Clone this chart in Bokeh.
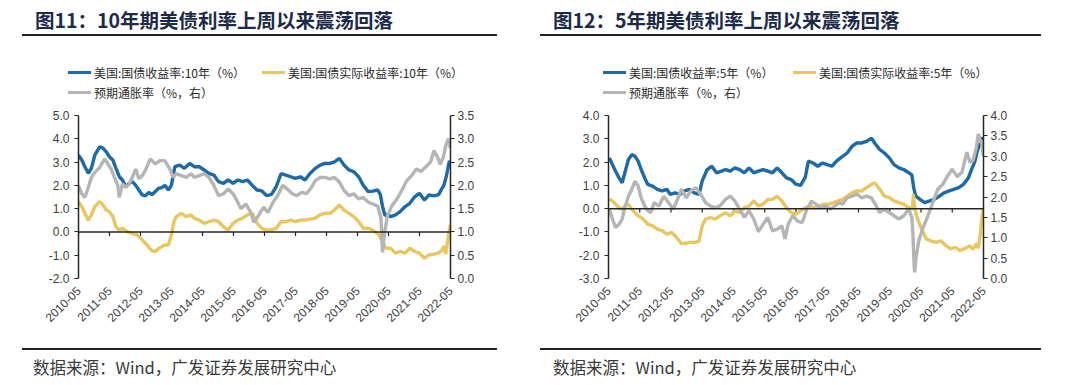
import math
from bokeh.plotting import figure
from bokeh.models import (Range1d, LinearAxis, FixedTicker, Span, Div, PrintfTickFormatter)
from bokeh.layouts import row, column
from bokeh.embed import file_html
from bokeh.resources import INLINE

# ---------------- data (fractional year, value) ----------------
tick_labels = ["2010-05", "2011-05", "2012-05", "2013-05", "2014-05", "2015-05", "2016-05",
               "2017-05", "2018-05", "2019-05", "2020-05", "2021-05", "2022-05"]

# 10Y panel
us10_nominal = [(2010.33,3.30),(2010.44,3.09),(2010.54,2.80),(2010.65,2.52),(2010.75,2.74),(2010.86,3.30),
    (2011.02,3.66),(2011.12,3.60),(2011.23,3.44),(2011.33,3.23),(2011.44,3.09),(2011.54,2.74),(2011.65,2.37),
    (2011.75,2.23),(2011.86,1.94),(2011.97,2.09),(2012.07,2.16),(2012.18,2.00),(2012.28,1.80),(2012.39,1.59),
    (2012.49,1.55),(2012.60,1.70),(2012.70,1.60),(2012.81,1.73),(2012.91,1.87),(2013.02,1.90),(2013.12,2.00),
    (2013.23,1.80),(2013.33,2.00),(2013.44,2.80),(2013.60,2.87),(2013.75,2.73),(2013.92,2.94),(2014.07,2.80),
    (2014.23,2.80),(2014.39,2.66),(2014.54,2.51),(2014.70,2.44),(2014.85,2.16),(2015.01,2.09),(2015.16,2.23),
    (2015.32,2.09),(2015.47,2.23),(2015.63,2.16),(2015.78,2.23),(2015.94,2.00),(2016.09,1.80),(2016.25,1.76),
    (2016.40,1.56),(2016.56,1.61),(2016.71,1.94),(2016.87,2.51),(2017.02,2.44),(2017.18,2.37),(2017.33,2.30),
    (2017.49,2.37),(2017.64,2.23),(2017.80,2.51),(2017.97,2.73),(2018.13,2.87),(2018.28,2.94),(2018.44,2.94),
    (2018.59,3.01),(2018.75,3.16),(2018.90,2.87),(2019.06,2.66),(2019.21,2.59),(2019.37,2.37),(2019.52,2.00),
    (2019.68,1.73),(2019.83,1.75),(2019.99,1.80),(2020.07,1.60),(2020.14,1.10),(2020.22,0.70),(2020.30,0.75),
    (2020.40,0.66),(2020.56,0.73),(2020.71,0.87),(2020.87,1.09),(2021.02,1.23),(2021.18,1.51),(2021.33,1.66),
    (2021.49,1.37),(2021.64,1.59),(2021.80,1.55),(2021.95,1.60),(2022.05,1.85),(2022.12,2.00),(2022.20,2.40),
    (2022.26,2.80),(2022.30,3.05),(2022.33,2.95)]

us10_real = [(2010.33,1.30),(2010.44,1.09),(2010.54,0.80),(2010.65,0.50),(2010.75,0.73),(2010.86,1.09),
    (2011.02,1.30),(2011.12,1.16),(2011.23,0.94),(2011.33,0.87),(2011.44,0.66),(2011.54,0.23),(2011.65,0.07),
    (2011.75,0.16),(2011.91,0.00),(2012.07,-0.06),(2012.23,-0.13),(2012.39,-0.34),(2012.54,-0.56),(2012.70,-0.80),
    (2012.81,-0.85),(2012.91,-0.72),(2013.02,-0.63),(2013.12,-0.56),(2013.23,-0.56),(2013.33,-0.13),(2013.41,0.44),
    (2013.49,0.66),(2013.65,0.80),(2013.81,0.66),(2013.96,0.73),(2014.07,0.59),(2014.23,0.51),(2014.39,0.37),
    (2014.54,0.44),(2014.70,0.51),(2014.85,0.44),(2015.01,0.23),(2015.16,0.07),(2015.32,0.37),(2015.47,0.51),
    (2015.63,0.59),(2015.78,0.73),(2015.94,0.80),(2016.09,0.37),(2016.25,0.16),(2016.40,0.07),(2016.56,0.10),
    (2016.71,0.15),(2016.87,0.45),(2017.02,0.44),(2017.18,0.51),(2017.33,0.44),(2017.49,0.51),(2017.64,0.51),
    (2017.80,0.55),(2017.97,0.59),(2018.13,0.73),(2018.28,0.80),(2018.44,0.80),(2018.59,0.94),(2018.75,1.16),
    (2018.90,0.94),(2019.06,0.80),(2019.21,0.66),(2019.37,0.44),(2019.52,0.16),(2019.68,0.16),(2019.83,0.07),
    (2019.99,-0.07),(2020.09,-0.29),(2020.25,-0.70),(2020.40,-0.70),(2020.56,-0.91),(2020.71,-0.84),(2020.87,-0.91),
    (2021.02,-0.70),(2021.18,-0.84),(2021.33,-0.91),(2021.49,-1.13),(2021.64,-0.99),(2021.80,-0.95),(2021.95,-0.90),
    (2022.05,-0.80),(2022.12,-0.60),(2022.18,-0.95),(2022.24,-0.40),(2022.29,0.05),(2022.33,0.30)]

us10_breakeven = [(2010.33,2.00),(2010.44,1.82),(2010.54,1.74),(2010.65,1.96),(2010.75,2.17),(2010.86,2.28),
    (2011.02,2.39),(2011.18,2.57),(2011.28,2.46),(2011.39,2.35),(2011.49,2.17),(2011.60,2.00),(2011.65,1.74),
    (2011.75,2.03),(2011.86,1.96),(2011.97,2.03),(2012.07,2.17),(2012.18,2.35),(2012.28,2.14),(2012.39,2.21),
    (2012.49,2.32),(2012.65,2.57),(2012.81,2.46),(2012.96,2.53),(2013.12,2.53),(2013.28,2.35),(2013.39,2.17),
    (2013.49,2.25),(2013.65,2.21),(2013.81,2.17),(2013.96,2.25),(2014.07,2.17),(2014.23,2.21),(2014.39,2.25),
    (2014.54,2.17),(2014.70,2.00),(2014.85,1.78),(2015.01,1.82),(2015.16,1.92),(2015.32,1.82),(2015.47,1.64),
    (2015.57,1.50),(2015.73,1.60),(2015.89,1.42),(2015.99,1.21),(2016.14,1.35),(2016.30,1.53),(2016.45,1.42),
    (2016.61,1.64),(2016.76,1.78),(2016.92,2.00),(2017.07,1.92),(2017.23,1.82),(2017.38,1.78),(2017.54,1.85),
    (2017.69,1.82),(2017.85,1.96),(2017.97,2.10),(2018.13,2.17),(2018.28,2.17),(2018.44,2.14),(2018.59,2.17),
    (2018.75,2.07),(2018.90,1.89),(2019.06,1.78),(2019.21,1.82),(2019.37,1.71),(2019.52,1.74),(2019.68,1.64),
    (2019.83,1.60),(2019.99,1.55),(2020.09,1.30),(2020.14,0.56),(2020.21,0.99),(2020.30,1.35),(2020.45,1.57),
    (2020.61,1.71),(2020.76,1.89),(2020.92,2.10),(2021.07,2.20),(2021.23,2.35),(2021.38,2.30),(2021.54,2.40),
    (2021.69,2.50),(2021.80,2.75),(2021.92,2.60),(2022.00,2.45),(2022.10,2.60),(2022.18,2.85),(2022.26,3.00),
    (2022.30,2.90),(2022.33,2.80)]

# 5Y panel
us5_nominal = [(2010.36,2.18),(2010.46,1.89),(2010.56,1.61),(2010.67,1.32),(2010.77,1.11),(2010.87,1.61),
    (2010.97,2.11),(2011.08,2.32),(2011.18,2.25),(2011.28,2.04),(2011.38,1.68),(2011.49,1.32),(2011.59,1.04),
    (2011.74,0.97),(2011.90,0.83),(2012.05,0.76),(2012.20,0.83),(2012.31,0.61),(2012.46,0.68),(2012.62,0.61),
    (2012.77,0.76),(2012.92,0.83),(2013.08,0.68),(2013.23,0.61),(2013.33,1.18),(2013.49,1.68),(2013.64,1.82),
    (2013.79,1.54),(2013.95,1.61),(2014.08,1.68),(2014.23,1.61),(2014.38,1.75),(2014.53,1.68),(2014.68,1.54),
    (2014.83,1.75),(2014.98,1.54),(2015.13,1.61),(2015.28,1.68),(2015.43,1.61),(2015.58,1.54),(2015.73,1.75),
    (2015.88,1.54),(2016.03,1.32),(2016.18,1.25),(2016.33,1.05),(2016.48,1.00),(2016.63,1.35),(2016.73,2.04),
    (2016.88,1.96),(2017.03,1.82),(2017.18,1.96),(2017.33,1.89),(2017.48,1.82),(2017.63,2.04),(2017.78,2.20),
    (2017.97,2.39),(2018.13,2.68),(2018.28,2.82),(2018.44,2.82),(2018.59,2.89),(2018.75,3.03),(2018.85,2.82),
    (2019.01,2.54),(2019.16,2.39),(2019.32,2.18),(2019.47,1.89),(2019.63,1.75),(2019.78,1.68),(2019.94,1.54),
    (2020.04,1.45),(2020.10,0.90),(2020.16,0.55),(2020.30,0.40),(2020.45,0.26),(2020.61,0.33),(2020.76,0.40),
    (2020.92,0.54),(2021.07,0.68),(2021.23,0.76),(2021.38,0.83),(2021.54,0.90),(2021.69,1.04),(2021.85,1.32),
    (2021.95,1.68),(2022.05,2.00),(2022.14,2.50),(2022.22,2.80),(2022.28,3.05),(2022.33,2.95)]

us5_real = [(2010.36,0.40),(2010.46,0.33),(2010.56,0.19),(2010.67,0.04),(2010.77,-0.03),(2010.87,0.12),
    (2010.97,0.19),(2011.08,-0.03),(2011.18,-0.17),(2011.28,-0.31),(2011.38,-0.38),(2011.49,-0.52),(2011.59,-0.67),
    (2011.74,-0.74),(2011.90,-0.88),(2012.05,-0.95),(2012.20,-1.09),(2012.36,-1.02),(2012.51,-1.24),(2012.67,-1.50),
    (2012.77,-1.50),(2012.92,-1.45),(2013.08,-1.45),(2013.23,-1.40),(2013.33,-0.74),(2013.44,-0.45),(2013.59,-0.38),
    (2013.74,-0.45),(2013.90,-0.31),(2014.08,-0.17),(2014.23,-0.31),(2014.38,-0.10),(2014.53,-0.17),(2014.68,0.04),
    (2014.83,0.12),(2014.98,0.33),(2015.13,0.12),(2015.28,0.19),(2015.43,0.40),(2015.58,0.40),(2015.73,0.54),
    (2015.88,0.33),(2016.03,0.04),(2016.18,-0.17),(2016.33,-0.24),(2016.48,-0.10),(2016.63,0.04),(2016.78,0.12),
    (2016.93,0.04),(2017.08,0.12),(2017.23,0.19),(2017.38,0.19),(2017.53,0.26),(2017.68,0.33),(2017.83,0.40),
    (2017.97,0.54),(2018.13,0.68),(2018.28,0.76),(2018.44,0.76),(2018.59,0.90),(2018.75,1.04),(2018.85,1.11),
    (2019.01,0.83),(2019.16,0.54),(2019.32,0.47),(2019.47,0.33),(2019.63,0.26),(2019.78,0.19),(2019.94,0.04),
    (2020.06,0.00),(2020.09,0.61),(2020.12,0.10),(2020.19,-0.31),(2020.35,-0.88),(2020.51,-1.31),(2020.66,-1.38),
    (2020.82,-1.45),(2020.97,-1.38),(2021.13,-1.59),(2021.28,-1.73),(2021.44,-1.66),(2021.59,-1.80),(2021.75,-1.70),
    (2021.90,-1.60),(2022.00,-1.75),(2022.10,-1.50),(2022.17,-1.70),(2022.23,-1.10),(2022.28,-0.40),(2022.33,0.00)]

us5_breakeven = [(2010.36,1.70),(2010.46,1.46),(2010.56,1.25),(2010.67,1.33),(2010.77,1.46),(2010.87,1.78),
    (2010.97,2.02),(2011.08,2.19),(2011.18,2.39),(2011.28,2.27),(2011.38,1.98),(2011.49,1.78),(2011.59,1.66),
    (2011.69,1.62),(2011.79,1.86),(2011.95,1.78),(2012.10,2.02),(2012.26,1.86),(2012.41,1.70),(2012.56,1.98),
    (2012.67,2.19),(2012.82,1.98),(2012.97,2.15),(2013.13,2.23),(2013.28,2.07),(2013.44,1.86),(2013.59,1.78),
    (2013.74,1.74),(2013.90,1.78),(2014.08,1.94),(2014.23,2.02),(2014.38,1.90),(2014.53,1.70),(2014.68,1.50),
    (2014.83,1.66),(2014.98,1.46),(2015.13,1.15),(2015.28,1.33),(2015.43,1.50),(2015.58,1.17),(2015.73,1.21),
    (2015.88,1.29),(2015.98,0.97),(2016.08,1.33),(2016.23,1.54),(2016.38,1.41),(2016.53,1.37),(2016.68,1.70),
    (2016.83,1.90),(2016.98,1.82),(2017.13,1.74),(2017.28,1.78),(2017.43,1.70),(2017.58,1.78),(2017.73,1.86),
    (2017.82,1.82),(2017.97,1.98),(2018.13,2.02),(2018.28,2.07),(2018.44,1.98),(2018.59,2.02),(2018.75,1.98),
    (2018.90,1.78),(2019.01,1.62),(2019.16,1.70),(2019.32,1.62),(2019.47,1.54),(2019.63,1.46),(2019.78,1.54),
    (2019.94,1.70),(2020.04,1.50),(2020.08,1.00),(2020.11,0.35),(2020.13,0.15),(2020.18,0.55),(2020.27,0.95),
    (2020.40,1.25),(2020.56,1.55),(2020.71,1.86),(2020.87,2.19),(2021.02,2.30),(2021.18,2.51),(2021.33,2.68),
    (2021.49,2.50),(2021.64,2.60),(2021.80,3.10),(2021.90,2.85),(2022.00,2.90),(2022.10,3.20),(2022.17,3.55),
    (2022.22,3.40),(2022.28,3.30),(2022.33,3.00)]

titles = ["图11：10年期美债利率上周以来震荡回落", "图12：5年期美债利率上周以来震荡回落"]
legend_10 = ["美国:国债收益率:10年（%）", "美国:国债实际收益率:10年（%）", "预期通胀率（%，右）"]
legend_5 = ["美国:国债收益率:5年（%）", "美国:国债实际收益率:5年（%）", "预期通胀率（%，右）"]
source_text = "数据来源：Wind，广发证券发展研究中心"

left_ticks_10 = [-2, -1, 0, 1, 2, 3, 4, 5]
right_ticks_10 = [0, 0.5, 1.0, 1.5, 2.0, 2.5, 3.0, 3.5]
left_ticks_5 = [-3, -2, -1, 0, 1, 2, 3, 4]
right_ticks_5 = [0, 0.5, 1.0, 1.5, 2.0, 2.5, 3.0, 3.5, 4.0]

# ---------------- styling ----------------
BLUE = "#1c6aa6"
YELLOW = "#e8c660"
GRAY = "#b5b5b5"
AXIS = "#262626"
TICKTXT = "#404040"
LATIN = "Liberation Sans"
CJK = "Noto Sans CJK SC"
PANEL_W = 540
FIG_H = 248
LW = 3.4


def month_index(label):
    y, m = label.split("-")
    return (int(y) - 2010) * 12 + int(m) - 5


tick_pos = [month_index(l) for l in tick_labels]


def to_months(series):
    xs = [(t - 2010 - 4 / 12) * 12 for t, _ in series]
    ys = [v for _, v in series]
    return xs, ys


def panel(nominal, real, be, lt, rt, border):
    bl, br, bt, bb = border
    p = figure(width=PANEL_W, height=FIG_H, output_backend="svg", toolbar_location=None,
               title=None,
               x_range=Range1d(tick_pos[0], tick_pos[-1]),
               y_range=Range1d(lt[0], lt[-1]),
               min_border_left=bl, min_border_right=br, min_border_top=bt, min_border_bottom=bb)
    p.outline_line_color = None
    p.grid.visible = False
    p.background_fill_color = "white"
    p.border_fill_color = "white"
    p.extra_y_ranges = {"r": Range1d(rt[0], rt[-1])}

    xa = p.xaxis[0]
    xa.ticker = FixedTicker(ticks=tick_pos)
    xa.major_label_overrides = {tp: lab for tp, lab in zip(tick_pos, tick_labels)}
    xa.major_label_orientation = math.pi / 4
    xa.axis_line_color = None
    xa.major_tick_line_color = None
    xa.minor_tick_line_color = None
    xa.major_label_text_font = LATIN
    xa.major_label_text_font_size = "12px"
    xa.major_label_text_color = TICKTXT
    xa.major_label_standoff = 4

    ya = p.yaxis[0]
    ya.ticker = FixedTicker(ticks=lt)
    ya.formatter = PrintfTickFormatter(format="%.1f")
    ra = LinearAxis(y_range_name="r", ticker=FixedTicker(ticks=rt),
                    formatter=PrintfTickFormatter(format="%.1f"))
    p.add_layout(ra, "right")
    for ax, so in ((ya, 5), (ra, 3)):
        ax.axis_line_color = AXIS
        ax.axis_line_width = 1.5
        ax.major_tick_line_color = AXIS
        ax.major_tick_line_width = 1.2
        ax.major_tick_out = 4
        ax.major_tick_in = 0
        ax.minor_tick_line_color = None
        ax.major_label_text_font = LATIN
        ax.major_label_text_font_size = "12px"
        ax.major_label_text_color = TICKTXT
        ax.major_label_standoff = so

    p.add_layout(Span(location=0, dimension="width", line_color=AXIS, line_width=1.5))
    frame_h = FIG_H - bt - bb
    tick_len = 4 * (lt[-1] - lt[0]) / frame_h
    p.segment(x0=tick_pos, y0=[0] * len(tick_pos), x1=tick_pos, y1=[-tick_len] * len(tick_pos),
              line_color=AXIS, line_width=1.2)

    xn, yn = to_months(nominal)
    xr, yr = to_months(real)
    xb, yb = to_months(be)
    p.line(xn, yn, line_color=BLUE, line_width=LW)
    p.line(xr, yr, line_color=YELLOW, line_width=LW)
    p.line(xb, yb, line_color=GRAY, line_width=LW, y_range_name="r")
    return p


def title_div(text, x0, w, pad):
    html = (f'<div style="margin-left:{x0}px;width:{w}px;height:36px;border-bottom:2px solid #222;">'
            f'<div style="padding-left:{pad}px;padding-top:8px;line-height:24px;'
            f'font-family:\'Noto Sans CJK SC\';font-weight:bold;font-size:19.5px;color:#1c2b4a;'
            f'white-space:nowrap;">{text}</div></div>')
    return Div(text=html, width=PANEL_W, height=38, margin=0)


def legend_div(labels, x0, col_w):
    def item(color, text, w=None):
        width = f"width:{w}px;" if w else ""
        return (f'<span style="display:inline-block;{width}">'
                f'<span style="display:inline-block;width:23px;height:3px;background:{color};'
                f'vertical-align:middle;margin-right:3px;"></span>'
                f'<span style="vertical-align:middle;">{text}</span></span>')
    html = (f'<div style="padding-top:23px;padding-left:{x0}px;font-family:\'Noto Sans CJK SC\';'
            f'font-size:12px;color:#2a2a2a;line-height:20px;white-space:nowrap;">'
            f'<div style="height:20px;">{item(BLUE, labels[0], col_w)}{item(YELLOW, labels[1])}</div>'
            f'<div style="height:20px;">{item(GRAY, labels[2])}</div></div>')
    return Div(text=html, width=PANEL_W, height=62, margin=0)


def source_div(text, x0, w, pad):
    html = (f'<div style="margin-left:{x0}px;width:{w}px;border-top:2px solid #222;">'
            f'<div style="padding-left:{pad}px;padding-top:6px;line-height:22px;'
            f'font-family:\'Noto Sans CJK SC\';font-size:16.5px;color:#3a3a3a;'
            f'white-space:nowrap;">{text}</div></div>')
    return Div(text=html, width=PANEL_W, height=36, margin=0)


p1 = panel(us10_nominal, us10_real, us10_breakeven, left_ticks_10, right_ticks_10, (78, 90, 15, 70))
p2 = panel(us5_nominal, us5_real, us5_breakeven, left_ticks_5, right_ticks_5, (68, 97, 14, 70))

layout = column(
    row(title_div(titles[0], 22, 475, 13), title_div(titles[1], 0, 501, 13), spacing=0),
    row(legend_div(legend_10, 68, 194), legend_div(legend_5, 63, 190), spacing=0),
    row(p1, p2, spacing=0),
    row(source_div(source_text, 22, 475, 11), source_div(source_text, 0, 501, 13), spacing=0),
    spacing=0,
)
open("out.html", "w").write(file_html(layout, INLINE))
